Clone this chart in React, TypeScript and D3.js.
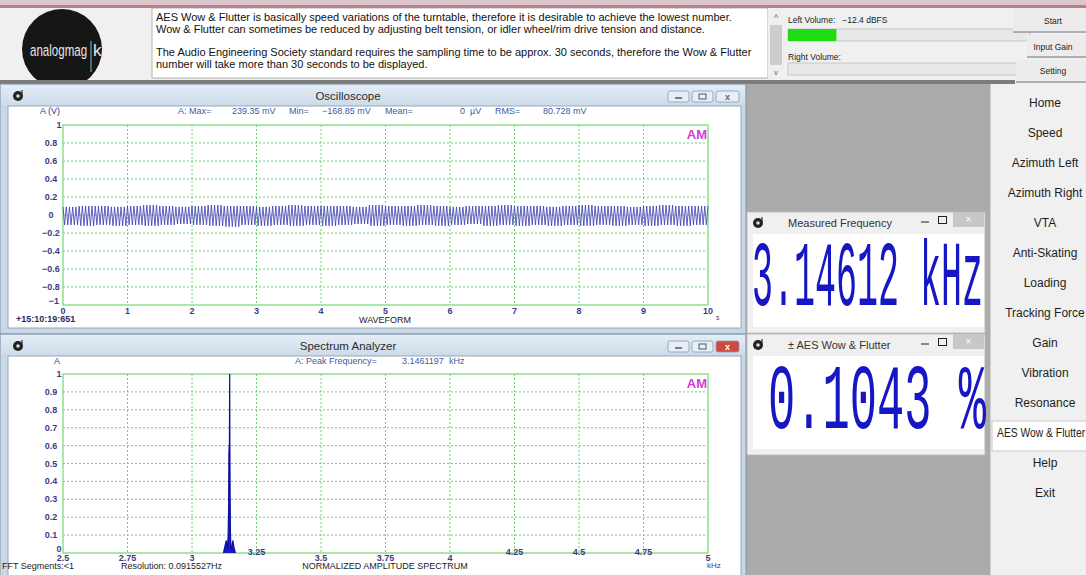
import * as d3 from 'd3';

// ---- data ----
const oscTimeTicks = [0, 1, 2, 3, 4, 5, 6, 7, 8, 9, 10];
const oscAmpTicks = [-1, -0.8, -0.6, -0.4, -0.2, 0, 0.2, 0.4, 0.6, 0.8, 1];
// peak envelope of the waveform, one value every 0.25 s (V)
const oscUpperPeaks = [
  0.09, 0.1, 0.1, 0.09, 0.1, 0.11, 0.1, 0.09, 0.1, 0.11, 0.1, 0.1, 0.09, 0.1, 0.11, 0.1, 0.1, 0.1, 0.09, 0.11,
  0.1, 0.1, 0.11, 0.1, 0.09, 0.1, 0.1, 0.11, 0.1, 0.1, 0.09, 0.1, 0.11, 0.1, 0.1, 0.09, 0.1, 0.11, 0.1, 0.1,
];
const oscLowerPeaks = [
  -0.11, -0.12, -0.11, -0.12, -0.11, -0.12, -0.11, -0.1, -0.11, -0.12, -0.13, -0.11, -0.12, -0.11, -0.12, -0.11,
  -0.12, -0.11, -0.1, -0.12, -0.11, -0.12, -0.11, -0.12, -0.11, -0.1, -0.12, -0.11, -0.12, -0.11, -0.12, -0.11,
  -0.12, -0.11, -0.12, -0.11, -0.12, -0.11, -0.12, -0.11,
];
const oscCyclesPerSecond = 20;

const specFreqTicks = [2.5, 2.75, 3, 3.25, 3.5, 3.75, 4, 4.25, 4.5, 4.75, 5];
const specRaisedTicks = [3.25, 4.25, 4.5, 4.75];
const specAmpTicks = [0, 0.1, 0.2, 0.3, 0.4, 0.5, 0.6, 0.7, 0.8, 0.9, 1];
const specFreq = [3.122, 3.128, 3.133, 3.138, 3.14, 3.142, 3.143, 3.144, 3.145, 3.1461, 3.1468, 3.1478, 3.149, 3.151, 3.154, 3.158, 3.163, 3.168];
const specAmp = [0, 0.04, 0.07, 0.02, 0.1, 0.25, 0.55, 0.6, 0.6, 1.0, 0.58, 0.3, 0.1, 0.03, 0.02, 0.07, 0.03, 0];

const oscStats = [
  { label: 'A: Max=', value: '239.35 mV' },
  { label: 'Min=', value: '\u2212168.85 mV' },
  { label: 'Mean=', value: '0  \u00b5V' },
  { label: 'RMS=', value: '80.728 mV' },
];

const menuItems = [
  'Home', 'Speed', 'Azimuth Left', 'Azimuth Right', 'VTA', 'Anti-Skating', 'Loading',
  'Tracking Force', 'Gain', 'Vibration', 'Resonance', 'AES Wow & Flutter', 'Help', 'Exit',
];
const selectedItem = 'AES Wow & Flutter';

const infoParagraphs = [
  [
    'AES Wow & Flutter is basically speed variations of the turntable, therefore it is desirable to achieve the lowest number.',
    'Wow & Flutter can sometimes be reduced by adjusting belt tension, or idler wheel/rim drive tension and distance.',
  ],
  [
    'The Audio Engineering Society standard requires the sampling time to be approx. 30 seconds, therefore the Wow & Flutter',
    'number will take more than 30 seconds to be displayed.',
  ],
];

const measuredFrequency = '3.14612 kHz';
const wowFlutter = '0.1043 %';
const leftVolumeDbfs = -12.4;

const SANS = '"Liberation Sans", Arial, sans-serif';
const MONO = '"Liberation Mono", "Courier New", monospace';
const GRID = '#6fd16f';
const TICK = '#3c3c86';
const STAT = '#3d5aa8';

const fmt = d3.format('~g');

function AppIcon({ x, y }: { x: number; y: number }) {
  return (
    <g>
      <circle cx={x} cy={y} r={5} fill="#222" />
      <circle cx={x} cy={y} r={1.8} fill="#ddd" />
      <line x1={x + 4} y1={y - 6} x2={x + 4} y2={y - 2} stroke="#333" strokeWidth={1.2} />
    </g>
  );
}

function AeroWindow({ y, h, title, redClose }: { y: number; h: number; title: string; redClose?: boolean }) {
  const btnY = y + 7;
  return (
    <g>
      <rect x={0} y={y} width={746} height={h} fill="#c9d8e7" stroke="#8394a8" />
      <rect x={1} y={y + 1} width={744} height={20} fill="url(#titleGrad)" />
      <AppIcon x={18} y={y + 12} />
      <text x={348} y={y + 16} textAnchor="middle" fontFamily={SANS} fontSize={11.5} fill="#2b2b2b">{title}</text>
      {[668, 692, 716].map((bx, i) => (
        <g key={bx}>
          <rect x={bx} y={btnY} width={i === 2 ? 23 : 21} height={11} rx={2}
            fill={i === 2 && redClose ? '#cf4a3c' : '#e6eef6'} stroke="#8a9ab0" strokeWidth={0.8} />
          {i === 0 && <line x1={bx + 7} y1={btnY + 7} x2={bx + 14} y2={btnY + 7} stroke="#556" strokeWidth={1.5} />}
          {i === 1 && <rect x={bx + 7} y={btnY + 3} width={7} height={5} fill="none" stroke="#556" strokeWidth={1} />}
          {i === 2 && (
            <text x={bx + 11.5} y={btnY + 9} textAnchor="middle" fontFamily={SANS} fontSize={9} fontWeight="bold"
              fill={redClose ? '#fff' : '#667'}>x</text>
          )}
        </g>
      ))}
      <rect x={8} y={y + 22} width={733} height={h - 28} fill="#fff" stroke="#9aa8b8" />
    </g>
  );
}

function GridPlot({ x, y, xTicks, yTicks }: {
  x: d3.ScaleLinear<number, number>;
  y: d3.ScaleLinear<number, number>;
  xTicks: number[];
  yTicks: number[];
}) {
  const [x0, x1] = x.range();
  const [y0, y1] = y.range();
  return (
    <g>
      {xTicks.slice(1, -1).map((t) => (
        <line key={'v' + t} x1={x(t)} x2={x(t)} y1={y1} y2={y0} stroke={GRID} strokeWidth={1} strokeDasharray="2,2" />
      ))}
      {yTicks.slice(1, -1).map((t) => (
        <line key={'h' + t} x1={x0} x2={x1} y1={y(t)} y2={y(t)} stroke={GRID} strokeWidth={1} strokeDasharray="2,2" />
      ))}
      <rect x={x0} y={y1} width={x1 - x0} height={y0 - y1} fill="none" stroke="#8ee08e" strokeWidth={1.5} />
    </g>
  );
}

function YLabels({ y, ticks, bottomX }: { y: d3.ScaleLinear<number, number>; ticks: number[]; bottomX: number }) {
  const last = ticks.length - 1;
  return (
    <g fontFamily={SANS} fontSize={9} fill={TICK} fontWeight="bold">
      {ticks.map((t, i) => (
        <text key={t} x={i === 0 ? bottomX : i === last ? 59 : 51} y={y(t) + (i === 0 ? -1 : 3)} textAnchor="middle">
          {fmt(t)}
        </text>
      ))}
    </g>
  );
}

function Oscilloscope() {
  const x = d3.scaleLinear().domain([0, 10]).range([63, 708]);
  const y = d3.scaleLinear().domain([-1, 1]).range([305, 125]);
  const half = 1 / (2 * oscCyclesPerSecond);
  const pts: [number, number][] = d3.range(0, 10 + half / 2, half).map((t, i) => {
    const k = Math.min(oscUpperPeaks.length - 1, Math.floor(t / 0.25));
    return [t, i % 2 === 0 ? oscUpperPeaks[k] : oscLowerPeaks[k]];
  });
  const line = d3.line<[number, number]>().x((d) => x(d[0])).y((d) => y(d[1]));
  const statX = [178, 232, 289, 322, 385, 460, 495, 543];
  return (
    <g>
      <AeroWindow y={84} h={250} title="Oscilloscope" />
      <GridPlot x={x} y={y} xTicks={oscTimeTicks} yTicks={oscAmpTicks} />
      <path d={line(pts) ?? ''} fill="none" stroke="#3a3ab2" strokeWidth={0.8} />
      <YLabels y={y} ticks={oscAmpTicks} bottomX={54} />
      <text x={50} y={114} textAnchor="middle" fontFamily={SANS} fontSize={9} fill={TICK}>A (V)</text>
      <g fontFamily={SANS} fontSize={9} fill={STAT}>
        {oscStats.map((s, i) => (
          <g key={s.label}>
            <text x={statX[i * 2]} y={114} xmlSpace="preserve">{s.label}</text>
            <text x={statX[i * 2 + 1]} y={114} xmlSpace="preserve">{s.value}</text>
          </g>
        ))}
      </g>
      <text x={707} y={139} textAnchor="end" fontFamily={SANS} fontSize={13} fontWeight="bold" fill="#d23fd0">AM</text>
      <g fontFamily={SANS} fontSize={9} fill={TICK} fontWeight="bold">
        {oscTimeTicks.map((t) => (
          <text key={t} x={x(t)} y={314} textAnchor="middle">{fmt(t)}</text>
        ))}
      </g>
      <text x={16} y={322} fontFamily={SANS} fontSize={9} fill="#2a2a66" fontWeight="bold">+15:10:19:651</text>
      <text x={385} y={323} textAnchor="middle" fontFamily={SANS} fontSize={9} fill="#222">WAVEFORM</text>
      <text x={716} y={320} fontFamily={SANS} fontSize={7} fill={TICK}>s</text>
    </g>
  );
}

function Spectrum() {
  const x = d3.scaleLinear().domain([2.5, 5]).range([63, 708]);
  const y = d3.scaleLinear().domain([0, 1]).range([553, 374]);
  const data = specFreq.map((f, i) => ({ f, a: specAmp[i] }));
  const area = d3.area<{ f: number; a: number }>().x((d) => x(d.f)).y0(y(0)).y1((d) => y(d.a));
  const line = d3.line<{ f: number; a: number }>().x((d) => x(d.f)).y((d) => y(d.a));
  return (
    <g>
      <AeroWindow y={334} h={250} title="Spectrum Analyzer" redClose />
      <GridPlot x={x} y={y} xTicks={specFreqTicks} yTicks={specAmpTicks} />
      <path d={area(data) ?? ''} fill="#1a1ac8" />
      <path d={line(data) ?? ''} fill="none" stroke="#0c0c9e" strokeWidth={1.2} />
      <YLabels y={y} ticks={specAmpTicks} bottomX={59} />
      <text x={57} y={364} textAnchor="middle" fontFamily={SANS} fontSize={9} fill={TICK}>A</text>
      <text x={295} y={364} fontFamily={SANS} fontSize={9} fill={STAT}>A: Peak Frequency=</text>
      <text x={402} y={364} fontFamily={SANS} fontSize={9} fill={STAT} xmlSpace="preserve">3.1461197  kHz</text>
      <text x={707} y={388} textAnchor="end" fontFamily={SANS} fontSize={13} fontWeight="bold" fill="#d23fd0">AM</text>
      <g fontFamily={SANS} fontSize={9} fill={TICK} fontWeight="bold">
        {specFreqTicks.map((t) => (
          <text key={t} x={x(t)} y={specRaisedTicks.includes(t) ? 555 : 561} textAnchor="middle">{fmt(t)}</text>
        ))}
      </g>
      <text x={2} y={569} fontFamily={SANS} fontSize={9} fill="#222">FFT Segments:&lt;1</text>
      <text x={121} y={569} fontFamily={SANS} fontSize={9} fill="#222">Resolution: 0.0915527Hz</text>
      <text x={385} y={569} textAnchor="middle" fontFamily={SANS} fontSize={9} fill="#222">NORMALIZED AMPLITUDE SPECTRUM</text>
      <text x={707} y={568} fontFamily={SANS} fontSize={8} fill={TICK}>kHz</text>
    </g>
  );
}

function Readout({ y, title, value, textX, textWidth, baseline }: {
  y: number; title: string; value: string; textX: number; textWidth: number; baseline: number;
}) {
  const fontSize = 92;
  // Liberation Mono advance is 0.6em; squeeze horizontally to the display width
  const sx = textWidth / (value.length * 0.6 * fontSize);
  return (
    <g>
      <rect x={747} y={y} width={238} height={121} fill="#f0f0f0" stroke="#b8b8b8" strokeWidth={0.8} />
      <AppIcon x={758} y={y + 11} />
      <text x={788} y={y + 15} fontFamily={SANS} fontSize={11} fill="#333">{title}</text>
      <line x1={921} x2={929} y1={y + 10} y2={y + 10} stroke="#222" strokeWidth={1} />
      <rect x={938.5} y={y + 4.5} width={8} height={7} fill="none" stroke="#222" strokeWidth={1} />
      <rect x={953} y={y} width={31} height={15} fill="#c7c7c7" />
      <text x={968.5} y={y + 11} textAnchor="middle" fontFamily={SANS} fontSize={10} fill="#fff">×</text>
      <rect x={753} y={y + 22} width={231} height={93} fill="#fff" />
      <text transform={`translate(${textX},${baseline}) scale(${sx},1)`} fontFamily={MONO} fontSize={fontSize}
        fill="#1616c4" xmlSpace="preserve">{value}</text>
    </g>
  );
}

function Header() {
  const volX = d3.scaleLinear().domain([-60, 0]).range([788, 1030]);
  return (
    <g>
      <rect x={0} y={0} width={1086} height={84} fill="#f0f0f0" />
      <rect x={0} y={0} width={1086} height={6} fill="#dcc6cc" />
      <rect x={0} y={5} width={1086} height={3} fill="#b67f8e" />
      {/* logo */}
      <circle cx={62} cy={49} r={40} fill="#161616" />
      <text transform="translate(30,56) scale(0.68,1)" fontFamily={SANS} fontSize={17} fill="#e6e6e6">analogmag</text>
      <line x1={91} y1={41} x2={91} y2={72} stroke="#6fc6c6" strokeWidth={1} />
      <text x={93} y={56} fontFamily={SANS} fontSize={17} fill="#e6e6e6">k</text>
      {/* info box */}
      <rect x={152} y={8} width={616} height={70} fill="#fff" stroke="#a0a0a0" strokeWidth={0.8} />
      <g fontFamily={SANS} fontSize={11} fill="#111">
        {infoParagraphs.map((p, pi) =>
          p.map((l, li) => (
            <text key={pi + '-' + li} x={156} y={21 + pi * 35 + li * 12}>{l}</text>
          )),
        )}
      </g>
      <rect x={768} y={8} width={16} height={70} fill="#f0f0f0" />
      <rect x={770} y={25} width={12} height={40} fill="#cdcdcd" />
      <text x={776} y={21} textAnchor="middle" fontFamily={SANS} fontSize={9} fill="#666">^</text>
      <text x={776} y={75} textAnchor="middle" fontFamily={SANS} fontSize={8} fill="#666">v</text>
      {/* volume meters */}
      <text x={788} y={23} fontFamily={SANS} fontSize={8.5} fill="#222" xmlSpace="preserve">{`Left Volume:   ${d3.format('.1f')(leftVolumeDbfs).replace('-', '\u2212')} dBFS`}</text>
      <rect x={788} y={29} width={242} height={12} fill="#e8e8e8" stroke="#bdbdbd" strokeWidth={0.8} />
      <rect x={788} y={29} width={volX(-48) - 788} height={12} fill="#1fdc12" />
      <text x={788} y={60} fontFamily={SANS} fontSize={8.5} fill="#222">Right Volume:</text>
      <rect x={788} y={63} width={242} height={12} fill="#e8e8e8" stroke="#bdbdbd" strokeWidth={0.8} />
      {/* buttons */}
      <rect x={1013} y={8} width={73} height={24} fill="#ececec" />
      <line x1={1013} x2={1086} y1={32} y2={32} stroke="#707070" strokeWidth={1.2} />
      <text x={1053} y={24} textAnchor="middle" fontFamily={SANS} fontSize={8.5} fill="#222">Start</text>
      <rect x={1027} y={35} width={59} height={22} fill="#ececec" />
      <line x1={1027} x2={1086} y1={57} y2={57} stroke="#707070" strokeWidth={1.2} />
      <text x={1053} y={50} textAnchor="middle" fontFamily={SANS} fontSize={8.5} fill="#222">Input Gain</text>
      <rect x={1016} y={60} width={70} height={22} fill="#ececec" />
      <line x1={1016} x2={1086} y1={82} y2={82} stroke="#707070" strokeWidth={1.2} />
      <text x={1053} y={74} textAnchor="middle" fontFamily={SANS} fontSize={8.5} fill="#222">Setting</text>
      <rect x={0} y={80} width={1015} height={4} fill="#7b7b7b" />
    </g>
  );
}

function Menu() {
  const y = d3.scalePoint<string>().domain(menuItems).range([107, 497]);
  return (
    <g>
      <rect x={990} y={84} width={96} height={491} fill="#f0f0f0" />
      <line x1={990.5} x2={990.5} y1={84} y2={575} stroke="#d0d0d0" />
      {menuItems.map((m) => {
        const sel = m === selectedItem;
        return (
          <g key={m}>
            {sel && <rect x={992} y={(y(m) ?? 0) - 16} width={96} height={30} fill="#fff" stroke="#c8c8c8" />}
            {sel ? (
              <text transform={`translate(997,${y(m)}) scale(0.86,1)`} fontFamily={SANS} fontSize={12} fill="#1e1e1e">{m}</text>
            ) : (
              <text x={1045} y={y(m)} textAnchor="middle" fontFamily={SANS} fontSize={12} fill="#1e1e1e">{m}</text>
            )}
          </g>
        );
      })}
    </g>
  );
}

export default function App() {
  return (
    <svg width={1086} height={575} style={{ position: 'absolute', left: 0, top: 0, background: '#ababab' }}>
      <defs>
        <linearGradient id="titleGrad" x1="0" y1="0" x2="0" y2="1">
          <stop offset="0" stopColor="#e4edf6" />
          <stop offset="1" stopColor="#cddbea" />
        </linearGradient>
      </defs>
      <rect x={0} y={0} width={1086} height={575} fill="#ababab" />
      <Header />
      <Oscilloscope />
      <Spectrum />
      <Readout y={212} title="Measured Frequency" value={measuredFrequency} textX={752} textWidth={231} baseline={305} />
      <Readout y={334} title={'\u00b1 AES Wow & Flutter'} value={wowFlutter} textX={768} textWidth={218} baseline={428} />
      <Menu />
    </svg>
  );
}
